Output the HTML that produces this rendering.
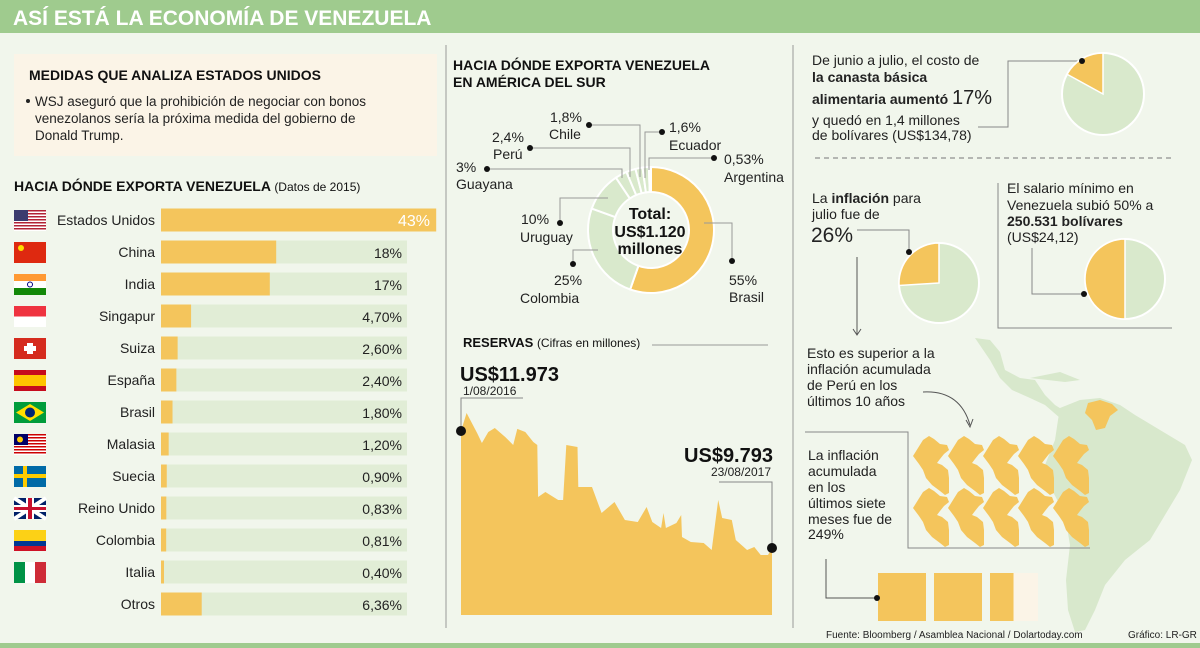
<!DOCTYPE html>
<html><head><meta charset="utf-8">
<style>
html,body{margin:0;padding:0;background:#f1f6ec;}
svg{display:block;font-family:"Liberation Sans",sans-serif;}
</style></head>
<body>
<svg id="page" width="1200" height="648" viewBox="0 0 1200 648">
  <rect x="0" y="0" width="1200" height="648" fill="#f1f6ec"/>
  <rect x="0" y="0" width="1200" height="33" fill="#9fcb8e"/>
  <text x="13" y="25" fill="#fff" font-size="21" font-weight="bold">ASÍ ESTÁ LA ECONOMÍA DE VENEZUELA</text>
  <rect x="0" y="643" width="1200" height="5" fill="#9fcb8e"/>

  <line x1="446" y1="45" x2="446" y2="628" stroke="#999" stroke-width="1"/>
  <line x1="793" y1="45" x2="793" y2="628" stroke="#999" stroke-width="1"/>

  <rect x="14" y="54" width="423" height="102" fill="#fbf4e7"/>
  <text x="29" y="80" font-size="14" font-weight="bold" fill="#111">MEDIDAS QUE ANALIZA ESTADOS UNIDOS</text>
  <g font-size="13.5" fill="#222">
    <circle cx="28" cy="101" r="2" fill="#222"/>
    <text x="35" y="106">WSJ aseguró que la prohibición de negociar con bonos</text>
    <text x="35" y="123">venezolanos sería la próxima medida del gobierno de</text>
    <text x="35" y="140">Donald Trump.</text>
  </g>

  <text x="14" y="191" font-size="14" font-weight="bold" fill="#111">HACIA DÓNDE EXPORTA VENEZUELA <tspan font-size="12" font-weight="normal">(Datos de 2015)</tspan></text>
  <g id="bars"></g>

  <text x="453" y="70" font-size="14" font-weight="bold" fill="#111">HACIA DÓNDE EXPORTA VENEZUELA</text>
  <text x="453" y="87" font-size="14" font-weight="bold" fill="#111">EN AMÉRICA DEL SUR</text>
  <g id="donut"></g>
  <g font-size="16" font-weight="bold" fill="#111" text-anchor="middle">
    <text x="650" y="219">Total:</text>
    <text x="650" y="237">US$1.120</text>
    <text x="650" y="254">millones</text>
  </g>
  <g fill="none" stroke="#999" stroke-width="1">
    <polyline points="589,125 640,125 640,177"/>
    <polyline points="530,148 630,148 630,177"/>
    <polyline points="487,169 622,169 622,178"/>
    <polyline points="662,132 645,132 645,178"/>
    <polyline points="714,158 649,158 649,170"/>
    <polyline points="560,223 560,198 608,198"/>
    <polyline points="573,264 573,250 598,250"/>
    <polyline points="732,261 732,223 704,223"/>
  </g>
  <g fill="#111">
    <circle cx="589" cy="125" r="3"/><circle cx="530" cy="148" r="3"/><circle cx="487" cy="169" r="3"/>
    <circle cx="662" cy="132" r="3"/><circle cx="714" cy="158" r="3"/><circle cx="560" cy="223" r="3"/>
    <circle cx="573" cy="264" r="3"/><circle cx="732" cy="261" r="3"/>
  </g>
  <g font-size="14" fill="#222">
    <text x="550" y="122">1,8%</text><text x="549" y="139">Chile</text>
    <text x="492" y="142">2,4%</text><text x="493" y="159">Perú</text>
    <text x="456" y="172">3%</text><text x="456" y="189">Guayana</text>
    <text x="669" y="132">1,6%</text><text x="669" y="150">Ecuador</text>
    <text x="724" y="164">0,53%</text><text x="724" y="182">Argentina</text>
    <text x="521" y="224">10%</text><text x="520" y="242">Uruguay</text>
    <text x="554" y="285">25%</text><text x="520" y="303">Colombia</text>
    <text x="729" y="285">55%</text><text x="729" y="302">Brasil</text>
  </g>

  <text x="463" y="347" font-size="13" font-weight="bold" fill="#111">RESERVAS <tspan font-size="12" font-weight="normal">(Cifras en millones)</tspan></text>
  <line x1="652" y1="345" x2="768" y2="345" stroke="#999"/>
  <g id="area"></g>
  <text x="460" y="381" font-size="20" font-weight="bold" fill="#111">US$11.973</text>
  <text x="463" y="395" font-size="12" fill="#222">1/08/2016</text>
  <text x="773" y="462" font-size="20" font-weight="bold" fill="#111" text-anchor="end">US$9.793</text>
  <text x="771" y="476" font-size="12" fill="#222" text-anchor="end">23/08/2017</text>

  <g font-size="14" fill="#222">
    <text x="812" y="65">De junio a julio, el costo de</text>
    <text x="812" y="82" font-weight="bold">la canasta básica</text>
    <text x="812" y="104" font-weight="bold">alimentaria aumentó <tspan font-size="20" font-weight="normal">17%</tspan></text>
    <text x="812" y="125">y quedó en 1,4 millones</text>
    <text x="812" y="140">de bolívares (US$134,78)</text>
  </g>
  <polyline points="1082,61 1008,61 1008,127 978,127" fill="none" stroke="#888"/>
  <g id="pie1"></g>
  <circle cx="1082" cy="61" r="3" fill="#111"/>
  <line x1="815" y1="158" x2="1172" y2="158" stroke="#777" stroke-dasharray="5,4"/>

  <g font-size="14" fill="#222">
    <text x="812" y="203">La <tspan font-weight="bold">inflación</tspan> para</text>
    <text x="812" y="219">julio fue de</text>
    <text x="811" y="242" font-size="21">26%</text>
  </g>
  <polyline points="909,252 909,230 857,230" fill="none" stroke="#888"/>
  <line x1="857" y1="257" x2="857" y2="334" stroke="#555"/>
  <polyline points="853,329 857,335 861,329" fill="none" stroke="#555"/>
  <g id="pie2"></g>
  <circle cx="909" cy="252" r="3" fill="#111"/>

  <g font-size="14" fill="#222">
    <text x="1007" y="193">El salario mínimo en</text>
    <text x="1007" y="210">Venezuela subió 50% a</text>
    <text x="1007" y="226" font-weight="bold">250.531 bolívares</text>
    <text x="1007" y="242">(US$24,12)</text>
  </g>
  <polyline points="998,183 998,328 1172,328" fill="none" stroke="#888"/>
  <polyline points="1084,294 1032,294 1032,248" fill="none" stroke="#888"/>
  <g id="pie3"></g>
  <circle cx="1084" cy="294" r="3" fill="#111"/>

  <g fill="#d8e8cc">
    <path d="M975,338 L990,340 L1000,352 L1005,370 L1020,378 L1035,380 L1045,395 L1055,405 L1063,410 L1060,418 L1045,405 L1030,398 L1012,390 L1000,378 L990,360 Z"/>
    <path d="M1060,408 L1080,400 L1100,398 L1120,405 L1135,415 L1160,430 L1185,445 L1192,460 L1180,490 L1165,515 L1150,540 L1125,560 L1105,585 L1095,610 L1085,630 L1075,632 L1068,610 L1066,580 L1070,545 L1065,515 L1052,490 L1045,465 L1055,440 L1058,420 Z"/>
    <path d="M1030,378 L1060,372 L1080,380 L1065,382 Z"/>
  </g>
  <path d="M1088,403 L1100,400 L1112,404 L1118,410 L1110,416 L1105,428 L1096,430 L1092,420 L1085,413 Z" fill="#f4c55c"/>
  <g font-size="14" fill="#222">
    <text x="807" y="358">Esto es superior a la</text>
    <text x="807" y="374">inflación acumulada</text>
    <text x="807" y="390">de Perú en los</text>
    <text x="807" y="406">últimos 10 años</text>
  </g>
  <path d="M923,392 Q960,390 970,425" fill="none" stroke="#555"/>
  <polyline points="966,420 970,427 973,419" fill="none" stroke="#555"/>
  <g id="perus"></g>
  <polyline points="805,432 908,432 908,548 1090,548" fill="none" stroke="#888"/>
  <g font-size="14" fill="#222">
    <text x="808" y="460">La inflación</text>
    <text x="808" y="476">acumulada</text>
    <text x="808" y="492">en los</text>
    <text x="808" y="508">últimos siete</text>
    <text x="808" y="524">meses fue de</text>
    <text x="808" y="539">249%</text>
  </g>
  <polyline points="826,559 826,598 877,598" fill="none" stroke="#555"/>
  <g id="squares"></g>
  <circle cx="877" cy="598" r="3" fill="#111"/>

  <text x="826" y="638" font-size="10" fill="#222">Fuente: Bloomberg / Asamblea Nacional / Dolartoday.com</text>
  <text x="1128" y="638" font-size="10" fill="#222">Gráfico: LR-GR</text>
</svg>
<script>
const NS = 'http://www.w3.org/2000/svg';
const countries = ['Estados Unidos','China','India','Singapur','Suiza','España','Brasil','Malasia','Suecia','Reino Unido','Colombia','Italia','Otros'];
const shares = [43, 18, 17, 4.70, 2.60, 2.40, 1.80, 1.20, 0.90, 0.83, 0.81, 0.40, 6.36];
const shareLabels = ['43%','18%','17%','4,70%','2,60%','2,40%','1,80%','1,20%','0,90%','0,83%','0,81%','0,40%','6,36%'];
const donutNames = ['Brasil','Colombia','Uruguay','Guayana','Perú','Chile','Ecuador','Argentina'];
const donutValues = [55, 25, 10, 3, 2.4, 1.8, 1.6, 0.53];
const resDays = [0,7,20,26,34,42,55,65,70,80,90,95,96,105,121,127,131,145,146,163,175,191,204,220,231,238,249,252,255,268,274,275,286,302,312,320,325,337,342,356,365,373,382,387];
const resValues = [11973,12308,11936,11750,11955,12029,11861,11712,12012,11955,11768,11712,10743,10836,10687,10687,11712,11675,10930,10930,10445,10650,10315,10277,10557,10277,10166,10445,10166,10259,10408,9998,9905,9886,9756,10687,10352,10315,9942,9756,9812,9663,9663,9793];
const pieShares = [17, 26, 50];

function el(tag, attrs, parent){const e=document.createElementNS(NS,tag);for(const k in attrs)e.setAttribute(k,attrs[k]);parent.appendChild(e);return e;}

const barX0 = 161, pxPer = 6.4, trackEnd = 407, row0 = 220, rowGap = 32, barH = 23;
const xScale = v => Math.max(3, v*pxPer);
const yRow = i => row0 + i*rowGap;
const gb = document.getElementById('bars');
const flagColors = [
 ['#b22234','#fff','#3c3b6e'],['#de2910','#ffde00'],['#ff9933','#fff','#138808'],['#ef3340','#fff'],['#d52b1e','#fff'],
 ['#c60b1e','#ffc400'],['#009c3b','#ffdf00','#002776'],['#cc0001','#fff','#010066'],['#006aa7','#fecc00'],['#012169','#fff','#c8102e'],
 ['#fcd116','#003893','#ce1126'],['#009246','#fff','#ce2b37']];
countries.forEach((c,i)=>{
  const y = yRow(i);
  const track = el('rect',{x:barX0,y:y-barH/2,width:trackEnd-barX0,height:barH,fill:'#e1edd6'},gb);
  
  
  const b = el('rect',{x:barX0,y:y-barH/2,width:xScale(shares[i]),height:barH,fill:'#f4c55c'},gb);
  
  
  const t = el('text',{x:155,y:y+5,'text-anchor':'end','font-size':14,fill:'#222'},gb); t.textContent=c;
  
  
  const first = i===0;
  const v = el('text',{x:first?430:402,y:y+6,'text-anchor':'end','font-size':first?16:14,fill:first?'#fff':'#222'},gb); v.textContent=shareLabels[i];
  
  
  if(i<flagColors.length){
    const f = el('g',{},gb);
    
    
    const fc = flagColors[i], fx=14, fy=y-10, fw=32, fh=21;
    if(i===1||i===4||i===3){ el('rect',{x:fx,y:fy,width:fw,height:fh,fill:fc[0]},f);
      if(i===1) el('circle',{cx:fx+7,cy:fy+6,r:3,fill:fc[1]},f);
      if(i===4){el('rect',{x:fx+13,y:fy+5,width:6,height:11,fill:'#fff'},f);el('rect',{x:fx+10,y:fy+8,width:12,height:5,fill:'#fff'},f);}
      if(i===3) el('rect',{x:fx,y:fy+fh/2,width:fw,height:fh/2,fill:'#fff'},f);
    } else if(i===11){ el('rect',{x:fx,y:fy,width:11,height:fh,fill:fc[0]},f);el('rect',{x:fx+11,y:fy,width:10,height:fh,fill:fc[1]},f);el('rect',{x:fx+21,y:fy,width:11,height:fh,fill:fc[2]},f);
    } else if(i===8){ el('rect',{x:fx,y:fy,width:fw,height:fh,fill:fc[0]},f);el('rect',{x:fx,y:fy+8,width:fw,height:4,fill:fc[1]},f);el('rect',{x:fx+9,y:fy,width:4,height:fh,fill:fc[1]},f);
    } else if(i===9){ el('rect',{x:fx,y:fy,width:fw,height:fh,fill:fc[0]},f);el('path',{d:`M${fx},${fy}L${fx+fw},${fy+fh}M${fx+fw},${fy}L${fx},${fy+fh}`,stroke:'#fff','stroke-width':4},f);el('rect',{x:fx,y:fy+7,width:fw,height:7,fill:'#fff'},f);el('rect',{x:fx+12,y:fy,width:8,height:fh,fill:'#fff'},f);el('rect',{x:fx,y:fy+9,width:fw,height:3,fill:fc[2]},f);el('rect',{x:fx+14,y:fy,width:4,height:fh,fill:fc[2]},f);
    } else if(i===6){ el('rect',{x:fx,y:fy,width:fw,height:fh,fill:fc[0]},f);el('path',{d:`M${fx+16},${fy+2}L${fx+30},${fy+10.5}L${fx+16},${fy+19}L${fx+2},${fy+10.5}Z`,fill:fc[1]},f);el('circle',{cx:fx+16,cy:fy+10.5,r:5,fill:fc[2]},f);
    } else if(i===5){ el('rect',{x:fx,y:fy,width:fw,height:fh,fill:fc[0]},f);el('rect',{x:fx,y:fy+5,width:fw,height:11,fill:fc[1]},f);
    } else if(i===2){ el('rect',{x:fx,y:fy,width:fw,height:7,fill:fc[0]},f);el('rect',{x:fx,y:fy+7,width:fw,height:7,fill:fc[1]},f);el('rect',{x:fx,y:fy+14,width:fw,height:7,fill:fc[2]},f);el('circle',{cx:fx+16,cy:fy+10.5,r:2.5,fill:'none',stroke:'#000080'},f);
    } else if(i===10){ el('rect',{x:fx,y:fy,width:fw,height:11,fill:fc[0]},f);el('rect',{x:fx,y:fy+11,width:fw,height:5,fill:fc[1]},f);el('rect',{x:fx,y:fy+16,width:fw,height:5,fill:fc[2]},f);
    } else {
      for(let s=0;s<7;s++){el('rect',{x:fx,y:fy+s*3,width:fw,height:1.5,fill:fc[0]},f);el('rect',{x:fx,y:fy+s*3+1.5,width:fw,height:1.5,fill:fc[1]},f);}
      el('rect',{x:fx,y:fy,width:14,height:11,fill:fc[2]},f);
      if(i===7) el('circle',{cx:fx+6,cy:fy+5.5,r:3,fill:'#ffcc00'},f);
    }
  }
});

const gd = document.getElementById('donut');
const dcx=651, dcy=230, rO=63, rI=38;
const total = donutValues.reduce((a,b)=>a+b,0);
function arcPath(cx,cy,r0,r1,a0,a1){
  const p=(r,a)=>[cx+r*Math.sin(a),cy-r*Math.cos(a)];
  const large = (a1-a0)>Math.PI?1:0;
  const [x0,y0]=p(r1,a0),[x1,y1]=p(r1,a1),[x2,y2]=p(r0,a1),[x3,y3]=p(r0,a0);
  if(r0===0) return `M${cx},${cy}L${x0},${y0}A${r1},${r1} 0 ${large} 1 ${x1},${y1}Z`;
  return `M${x0},${y0}A${r1},${r1} 0 ${large} 1 ${x1},${y1}L${x2},${y2}A${r0},${r0} 0 ${large} 0 ${x3},${y3}Z`;
}
let acc=0;
donutValues.forEach((v,i)=>{
  const a0=acc/total*2*Math.PI; acc+=v; const a1=acc/total*2*Math.PI;
  const s = el('path',{d:arcPath(dcx,dcy,rI,rO,a0,a1),fill:i===0?'#f4c55c':'#d9e9cc',stroke:'#fff','stroke-width':2},gd);
  
  
});

const ga = document.getElementById('area');
const ax0=461, ax1=772, dayMax=387, yBase=615;
const vTop=11973, vBot=9793, yTop=431, yBot=548;
const xR = d => ax0 + d/dayMax*(ax1-ax0);
const yR = v => yBot - (v-vBot)*(yBot-yTop)/(vTop-vBot);
let d = `M${xR(resDays[0])},${yBase}`;
resDays.forEach((dd,i)=>{ d += `L${xR(dd).toFixed(1)},${yR(resValues[i]).toFixed(1)}`; });
d += `L${xR(resDays[resDays.length-1])},${yBase}Z`;
const area = el('path',{d:d,fill:'#f4c55c'},ga);


const sx=xR(resDays[0]), sy=yR(resValues[0]), ex=xR(resDays[resDays.length-1]), ey=yR(resValues[resValues.length-1]);
const l1 = el('polyline',{points:`${sx},${sy} ${sx},398 523,398`,fill:'none',stroke:'#888'},ga);


const l2 = el('polyline',{points:`${ex},${ey} ${ex},482 719,482`,fill:'none',stroke:'#888'},ga);


const c1 = el('circle',{cx:sx,cy:sy,r:5,fill:'#111'},ga);


const c2 = el('circle',{cx:ex,cy:ey,r:5,fill:'#111'},ga);



const pies = [['pie1',1103,94,41],['pie2',939,283,40],['pie3',1125,279,40]];
pies.forEach((p,i)=>{
  const g=document.getElementById(p[0]);
  const bg = el('circle',{cx:p[1],cy:p[2],r:p[3],fill:'#d9e9cc',stroke:'#fff','stroke-width':2},g);
  
  
  const a = pieShares[i]/100*2*Math.PI;
  const s = el('path',{d:arcPath(p[1],p[2],0,p[3],-a,0),fill:'#f4c55c',stroke:'#fff','stroke-width':1.5},g);
  
  
});

const gp=document.getElementById('perus');
const peru='l6,-4 5,3 6,5 7,1 2,5 -5,4 -4,5 -3,4 5,2 6,5 1,8 0,15 -4,2 -5,-4 -8,-6 -6,-7 -3,-8 -4,-6 -6,-8 z';
for(let r=0;r<2;r++)for(let c=0;c<5;c++){
  const x=923+c*35, y=440+r*52;
  const pth = el('path',{d:`M${x},${y}`+peru,fill:'#f4c55c'},gp);
  
  
}
const gs=document.getElementById('squares');
const sqVal=[100,100,49];
el('rect',{x:990,y:573,width:48,height:48,fill:'#fbf4e7'},gs);
sqVal.forEach((v,i)=>{
  const r=el('rect',{x:878+i*56,y:573,width:48*v/100,height:48,fill:'#f4c55c'},gs);
  
  
});
</script>
</body></html>
